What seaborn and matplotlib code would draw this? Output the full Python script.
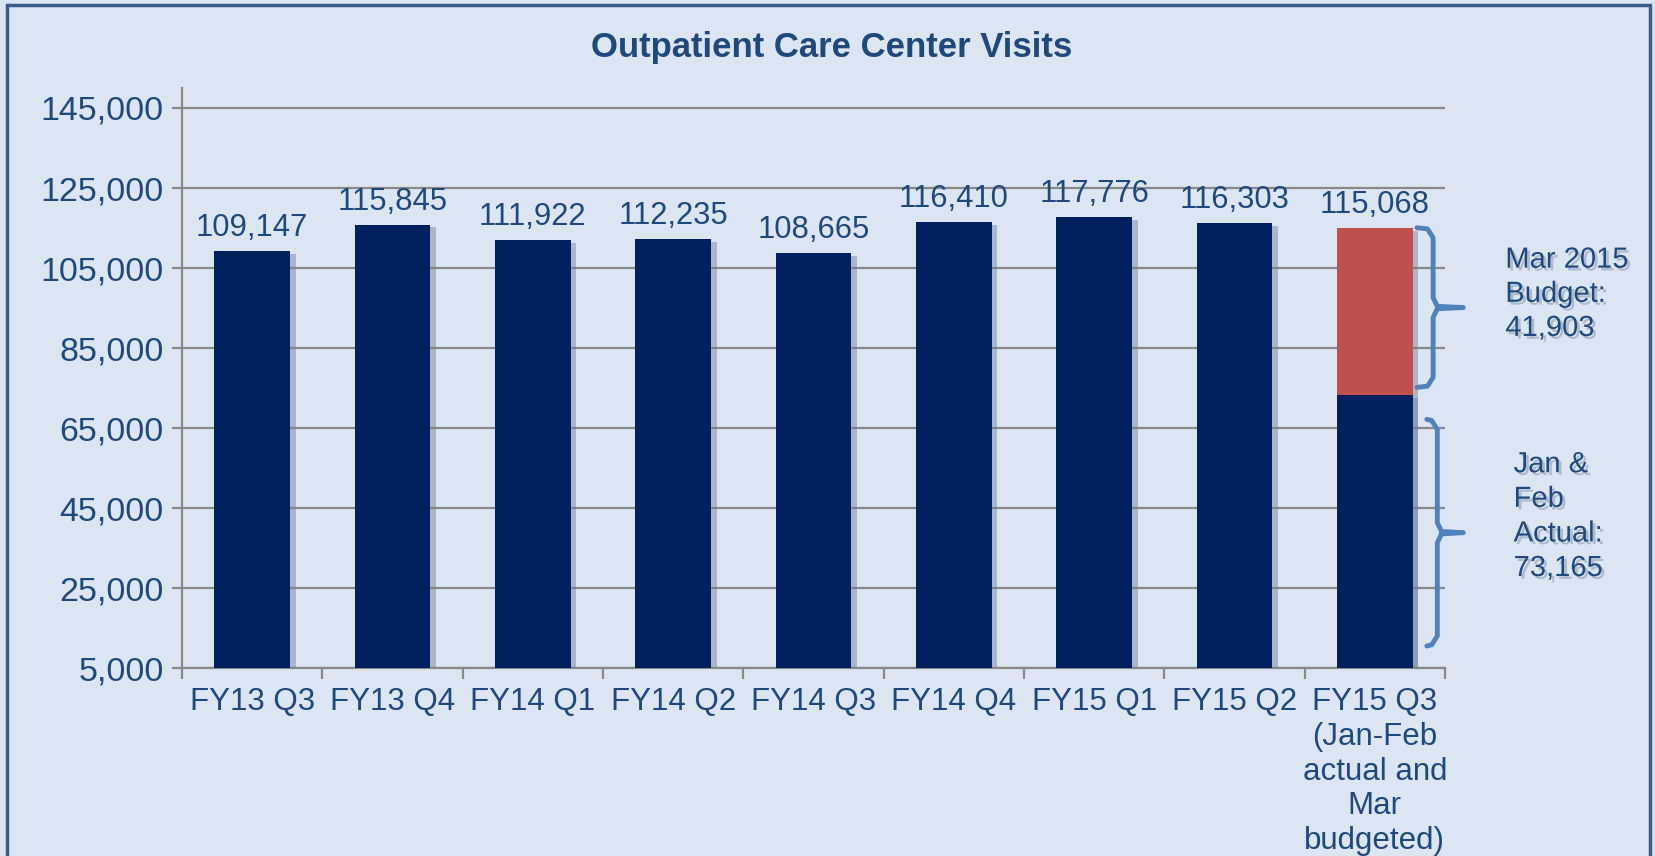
import matplotlib
matplotlib.use("Agg")
import matplotlib.pyplot as plt
import matplotlib.patheffects as pe
from matplotlib.patches import Rectangle
from matplotlib.ticker import FuncFormatter, FixedLocator
import pandas as pd
import seaborn as sns

# data
quarters = ["FY13 Q3", "FY13 Q4", "FY14 Q1", "FY14 Q2", "FY14 Q3",
            "FY14 Q4", "FY15 Q1", "FY15 Q2",
            "FY15 Q3\n(Jan-Feb\nactual and\nMar\nbudgeted)"]
actual_visits = [109147, 115845, 111922, 112235, 108665, 116410, 117776, 116303, 73165]
budget_visits = [0, 0, 0, 0, 0, 0, 0, 0, 41903]
y_ticks = [5000, 25000, 45000, 65000, 85000, 105000, 125000, 145000]

NAVY = "#002060"
RED = "#C0504D"
TEXT = "#1F497D"
GRID = "#898989"
BRACE = "#4F81BD"
BG = "#DCE6F2"

totals = [a + b for a, b in zip(actual_visits, budget_visits)]
df_base = pd.DataFrame({"quarter": quarters, "visits": actual_visits})
df_top = pd.DataFrame({"quarter": [q for q, b in zip(quarters, budget_visits) if b],
                       "visits": [t for t, b in zip(totals, budget_visits) if b]})

sns.set_theme(style="white")
plt.rcParams["font.family"] = ["Liberation Sans", "DejaVu Sans"]

fig = plt.figure(figsize=(16.56, 8.56), dpi=100, facecolor=BG)
ax = fig.add_axes([0.1099, 0.2196, 0.7627, 0.6776])
ax.set_facecolor(BG)

shadow = [pe.SimplePatchShadow(offset=(4, -2), shadow_rgbFace="#6f7f95", alpha=0.45), pe.Normal()]

sns.barplot(data=df_top, x="quarter", y="visits", order=quarters, color=RED,
            width=0.54, saturation=1, ax=ax, zorder=3)
sns.barplot(data=df_base, x="quarter", y="visits", order=quarters, color=NAVY,
            width=0.54, saturation=1, ax=ax, zorder=3)
for p in ax.patches:
    p.set_path_effects(shadow)
    p.set_edgecolor("none")

ax.set_ylim(5000, 150000)
ax.set_xlim(-0.5, len(quarters) - 0.5)
ax.yaxis.set_major_locator(FixedLocator(y_ticks))
ax.yaxis.set_major_formatter(FuncFormatter(lambda v, _: f"{int(v):,}"))
ax.grid(axis="y", color=GRID, linewidth=1.6, zorder=0)
ax.set_axisbelow(True)
ax.set_xlabel("")
ax.set_ylabel("")

for s in ["top", "right"]:
    ax.spines[s].set_visible(False)
for s in ["left", "bottom"]:
    ax.spines[s].set_color(GRID)
    ax.spines[s].set_linewidth(1.6)

ax.tick_params(axis="y", colors=GRID, labelcolor=TEXT, labelsize=24.5,
               length=7, width=1.6, direction="out", left=True, pad=6)
ax.tick_params(axis="x", which="major", length=0, labelcolor=TEXT, labelsize=22.5, pad=14)
ax.set_xticks([i + 0.5 for i in range(-1, len(quarters))], minor=True)
ax.tick_params(axis="x", which="minor", colors=GRID, length=8, width=1.6,
               direction="out", bottom=True)
for lbl in ax.get_xticklabels():
    lbl.set_linespacing(1.2)
    lbl.set_horizontalalignment("center")

# value labels above bars
for i, t in enumerate(totals):
    ax.text(i, t + 2000, f"{t:,}", ha="center", va="bottom", fontsize=22.3,
            color=TEXT, zorder=4)

fig.text(0.502, 0.945, "Outpatient Care Center Visits", ha="center", va="center",
         fontsize=25, fontweight="bold", color=TEXT)


def brace(x0, y_top, y_bot, xv=0.415, xt=0.63):
    c = len(quarters) - 1
    mid = (y_top + y_bot) / 2
    xs = [c + x0, c + xv - 0.04, c + xv, c + xv, c + xv + 0.03, c + xt,
          c + xv + 0.03, c + xv, c + xv, c + xv - 0.04, c + x0]
    ys = [y_top, y_top - 300, y_top - 2500, mid + 2500, mid + 300, mid,
          mid - 300, mid - 2500, y_bot + 2500, y_bot + 300, y_bot]
    ax.plot(xs, ys, color=BRACE, linewidth=3.5, clip_on=False,
            solid_joinstyle="round", solid_capstyle="round", zorder=5)


brace(0.30, totals[-1], actual_visits[-1] + 2000)
brace(0.37, actual_visits[-1] - 6000, 10500, xv=0.445)

txt_fx = [pe.withSimplePatchShadow(offset=(2, -2), shadow_rgbFace="#7f8fa6", alpha=0.5)]
fig.text(0.909, 0.713, f"Mar 2015\nBudget:\n{budget_visits[-1]:,}", ha="left", va="top",
         fontsize=21, color=TEXT, linespacing=1.28, path_effects=txt_fx)
fig.text(0.914, 0.474, f"Jan &\nFeb\nActual:\n{actual_visits[-1]:,}", ha="left", va="top",
         fontsize=21, color=TEXT, linespacing=1.3, path_effects=txt_fx)

# outer border
fig.patches.append(Rectangle((7 / 1656, -0.05), (1650 - 7) / 1656, 1 - 5 / 856 + 0.05,
                             transform=fig.transFigure, fill=False,
                             edgecolor="#385D8A", linewidth=2.5))

fig.savefig("out.png", dpi=100, facecolor=BG)
